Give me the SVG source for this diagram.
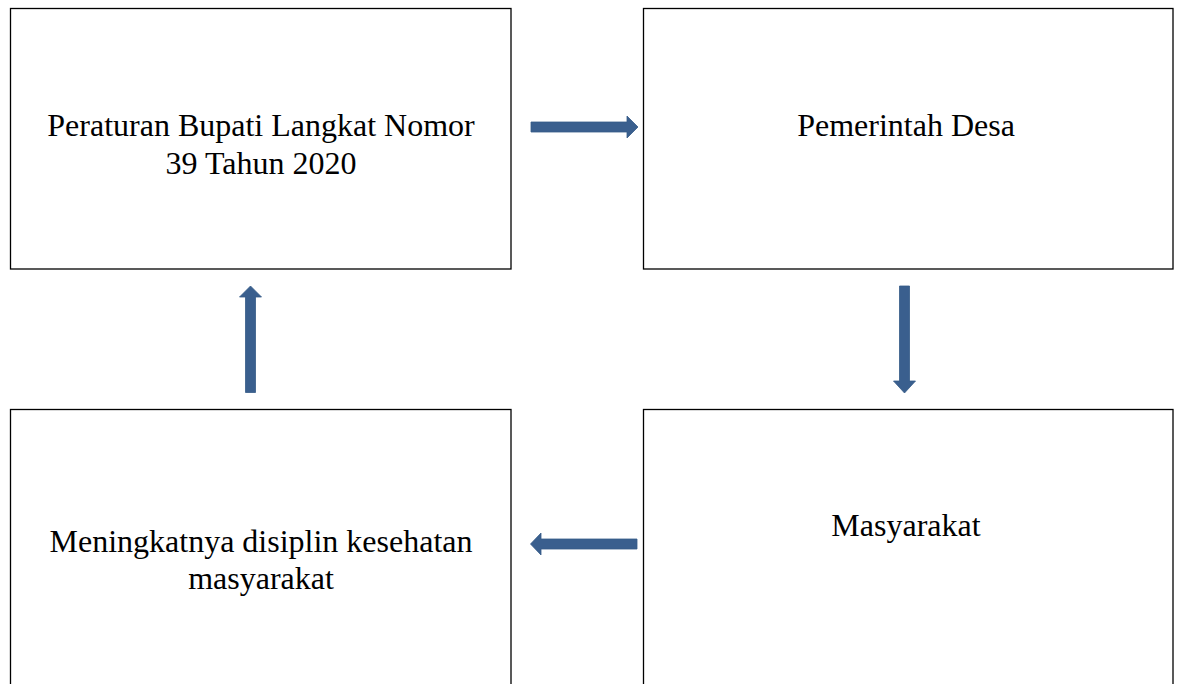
<svg xmlns="http://www.w3.org/2000/svg" width="1179" height="684" viewBox="0 0 1179 684">
<style>
.box{fill:#fff;stroke:#000;stroke-width:1.3}
.t{font-family:"Liberation Serif","Times New Roman",serif;font-size:32px;fill:#000;text-anchor:middle}
.arr{fill:#3A5F8E;stroke:#355A88;stroke-width:0.8}
</style>
<rect width="1179" height="684" fill="#fff"/>
<g id="n1"><rect class="box" x="10.5" y="8.5" width="500.5" height="260.5"/><text class="t" x="261" y="136">Peraturan Bupati Langkat Nomor</text><text class="t" x="261" y="174">39 Tahun 2020</text></g>
<g id="n2"><rect class="box" x="643.5" y="8.5" width="529.5" height="260.5"/><text class="t" x="906" y="136">Pemerintah Desa</text></g>
<g id="n3"><rect class="box" x="643.5" y="409.5" width="529.5" height="290"/><text class="t" x="906" y="536">Masyarakat</text></g>
<g id="n4"><rect class="box" x="10.5" y="409.5" width="500.5" height="290"/><text class="t" x="261" y="552">Meningkatnya disiplin kesehatan</text><text class="t" x="261" y="589">masyarakat</text></g>
<g id="connectors">
<polygon class="arr" points="531,122 627,122 627,116 638,127 627,138 627,132 531,132"/>
<polygon class="arr" points="899.5,286 909.5,286 909.5,381 915.5,381 904.5,393 893.5,381 899.5,381"/>
<polygon class="arr" points="637,539 541,539 541,533 530.5,544 541,555 541,549 637,549"/>
<polygon class="arr" points="245.5,392.5 255.5,392.5 255.5,297 261.5,297 250.5,286 239.5,297 245.5,297"/>
</g>
</svg>
